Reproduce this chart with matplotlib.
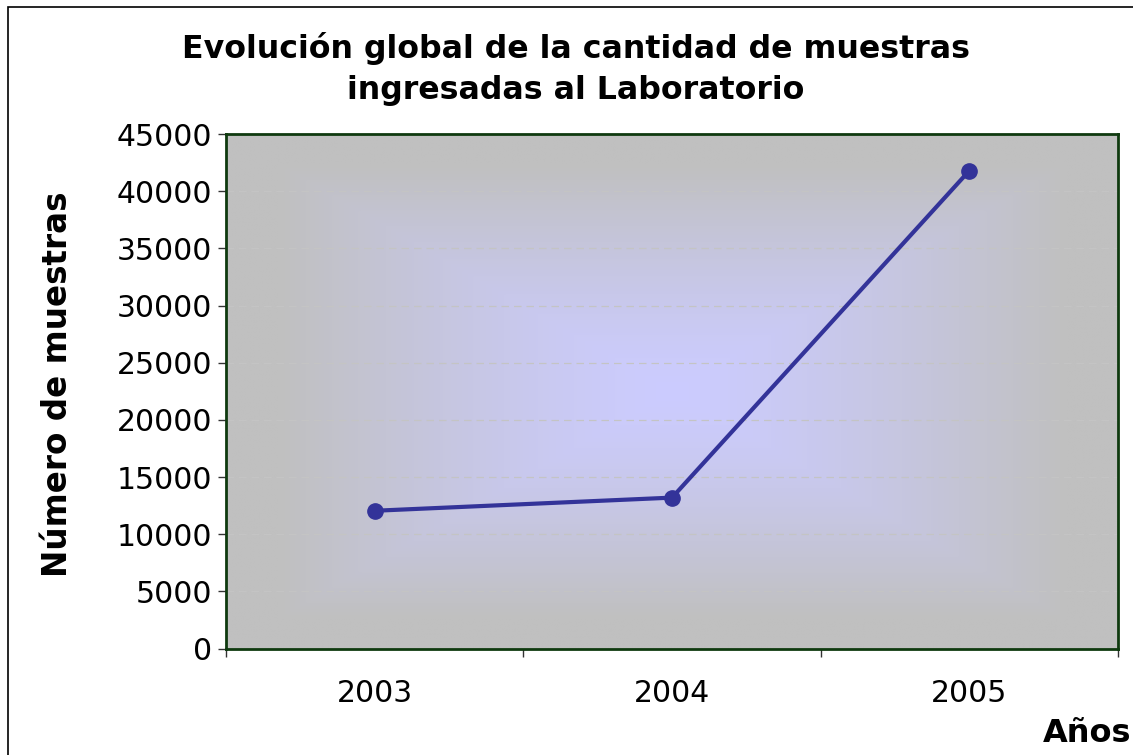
import matplotlib
matplotlib.use("Agg")
import matplotlib.pyplot as plt
from matplotlib.patches import Rectangle
import numpy as np

# data
years = ["2003", "2004", "2005"]
muestras = [12050, 13200, 41800]
yticks = [0, 5000, 10000, 15000, 20000, 25000, 30000, 35000, 40000, 45000]

line_col = "#333399"
spine_col = "#0f3a0f"

fig = plt.figure(figsize=(11.33, 7.55), dpi=100)
fig.patch.set_facecolor("white")
ax = fig.add_axes([0.1995, 0.141, 0.7873, 0.6815])

# outer chart frame (cut off at right and bottom like the original)
fig.patches.append(Rectangle((7.5 / 1133, -0.1), 1.2, 1 - 6.5 / 755 + 0.1,
                             transform=fig.transFigure, fill=False,
                             edgecolor="black", linewidth=1.2))

# rectangular "from centre" gradient for the plot area
nx, ny = 400, 300
gx = np.linspace(-1, 1, nx)
gy = np.linspace(-1, 1, ny)
GX, GY = np.meshgrid(gx, gy)
t = np.clip(np.maximum(np.abs(GX), np.abs(GY)) / 0.88, 0, 1) ** 1.3
c_in = np.array([0xcc, 0xcc, 0xff]) / 255
c_out = np.array([0xc0, 0xc0, 0xc0]) / 255
img = c_in[None, None, :] * (1 - t[..., None]) + c_out[None, None, :] * t[..., None]
ax.imshow(img, extent=[-0.5, 2.5, 0, 45000], aspect="auto", zorder=0,
          interpolation="bilinear")

x = np.arange(len(years))
ax.plot(x, muestras, color=line_col, linewidth=3, marker="o", markersize=11,
        zorder=3)

ax.set_xlim(-0.5, 2.5)
ax.set_ylim(0, 45000)
ax.set_yticks(yticks)
ax.set_yticklabels([str(v) for v in yticks])
ax.yaxis.grid(True, color="#c4c4c4", linestyle=(0, (6, 4)), linewidth=0.9)
for gl in ax.get_ygridlines():
    gl.set_zorder(1)

ax.set_xticks(x)
ax.set_xticklabels(years)
ax.set_xticks([-0.5, 0.5, 1.5, 2.5], minor=True)
ax.tick_params(axis="x", which="major", length=0, pad=22, labelsize=21.5)
ax.tick_params(axis="x", which="minor", length=6, width=1, color="#333333",
               direction="out")
ax.tick_params(axis="y", length=6, width=1, color="#333333", labelsize=21.5,
               pad=4)

for s in ax.spines.values():
    s.set_color(spine_col)
    s.set_linewidth(2)
    s.set_zorder(4)

fig.text(576 / 1133, 1 - 69 / 755,
         "Evolución global de la cantidad de muestras\ningresadas al Laboratorio",
         ha="center", va="center", fontsize=22.8, fontweight="bold",
         linespacing=1.45)
fig.text(57.5 / 1133, 1 - 384 / 755, "Número de muestras", rotation=90,
         ha="center", va="center", fontsize=23.5, fontweight="bold")
fig.text(1131 / 1133, 1 - 733 / 755, "Años", ha="right", va="center",
         fontsize=23, fontweight="bold")

fig.savefig("out.png", dpi=100)
